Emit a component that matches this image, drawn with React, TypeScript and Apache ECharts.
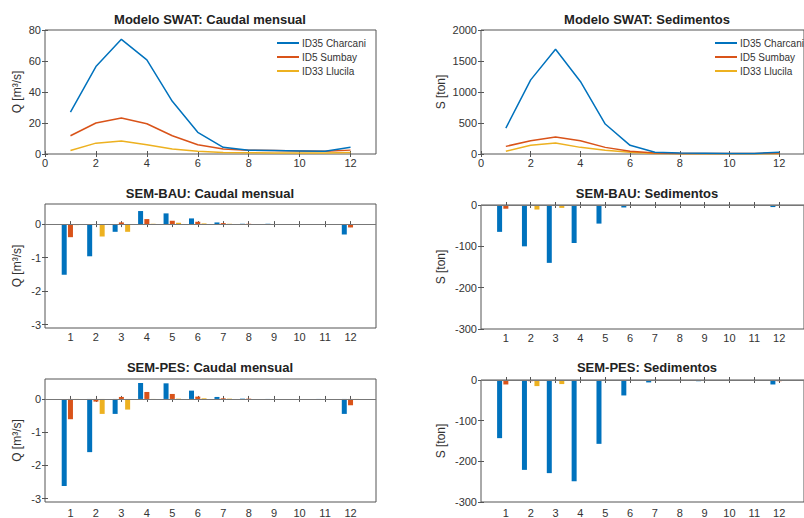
import React, { useEffect, useRef } from 'react';
import * as echarts from 'echarts';

const months = [1, 2, 3, 4, 5, 6, 7, 8, 9, 10, 11, 12];
const names = ['ID35 Charcani', 'ID5 Sumbay', 'ID33 Llucila'];
const colors = ['#0072BD', '#D95319', '#EDB120'];

const swatQCharcani = [27, 56.4, 74, 60.7, 34, 14, 4.3, 2.4, 2.2, 2.0, 1.8, 4.3];
const swatQSumbay = [11.8, 20, 23.2, 19.5, 11.8, 6, 3.2, 2.4, 2.2, 2.0, 1.8, 2.5];
const swatQLlucila = [2.2, 7, 8.4, 6, 3.2, 1.7, 1.0, 0.8, 0.7, 0.6, 0.6, 0.9];

const swatSCharcani = [418, 1196, 1690, 1170, 483, 140, 27, 15, 12, 10, 10, 30];
const swatSSumbay = [123, 215, 273, 215, 107, 43, 16, 10, 10, 10, 10, 15];
const swatSLlucila = [43, 140, 177, 107, 59, 27, 10, 5, 5, 5, 5, 5];

const bauQCharcani = [-1.51, -0.96, -0.23, 0.39, 0.32, 0.17, 0.05, 0.01, 0.01, 0.0, 0.0, -0.31];
const bauQSumbay = [-0.39, -0.02, 0.05, 0.15, 0.1, 0.07, 0.03, 0.01, 0.0, 0.0, 0.0, -0.1];
const bauQLlucila = [-0.03, -0.37, -0.23, 0.01, 0.04, 0.02, 0.01, 0.0, 0.0, 0.0, 0.0, -0.02];

const bauSCharcani = [-65, -100, -140, -92, -45, -6, -1, -1, -1, -1, -1, -5];
const bauSSumbay = [-9, -2, -1, -1, -1, -1, 0, 0, 0, 0, 0, -1];
const bauSLlucila = [-1, -11, -7, -1, -1, 0, 0, 0, 0, 0, 0, 0];

const pesQCharcani = [-2.62, -1.6, -0.45, 0.48, 0.47, 0.25, 0.06, 0.01, -0.01, 0.0, -0.01, -0.45];
const pesQSumbay = [-0.61, -0.08, 0.06, 0.21, 0.15, 0.07, 0.02, 0.01, 0.0, 0.0, 0.0, -0.19];
const pesQLlucila = [-0.03, -0.45, -0.32, -0.01, 0.01, 0.02, 0.01, 0.0, 0.0, 0.0, 0.0, -0.02];

const pesSCharcani = [-143, -221, -229, -249, -157, -38, -6, -2, -3, -1, -1, -11];
const pesSSumbay = [-11, -3, -2, -1, -1, 0, 0, 0, 0, 0, 0, -3];
const pesSLlucila = [-1, -15, -10, -1, -1, 0, 0, 0, 0, 0, 0, 0];

const lineXTicks = [0, 2, 4, 6, 8, 10, 12];
const barXTicks = months;
const qLineTicks = [0, 20, 40, 60, 80];
const sLineTicks = [0, 500, 1000, 1500, 2000];
const qBarTicks = [-3, -2, -1, 0];
const sBarTicks = [-300, -200, -100, 0];

const titles = [
  'Modelo SWAT: Caudal mensual',
  'Modelo SWAT: Sedimentos',
  'SEM-BAU: Caudal mensual',
  'SEM-BAU: Sedimentos',
  'SEM-PES: Caudal mensual',
  'SEM-PES: Sedimentos',
];

const FONT = '"Liberation Sans", Arial, Helvetica, sans-serif';
const AX = '#555';
const TXT = '#333';

export default function App() {
  const ref = useRef<HTMLDivElement>(null);
  useEffect(() => {
    if (!ref.current) return;
    const chart = echarts.init(ref.current, null, { renderer: 'svg' });

    const grids = [
      { left: 45, top: 30, width: 331, height: 124 },
      { left: 481, top: 30, width: 331, height: 124 },
      { left: 45, top: 204, width: 331, height: 124 },
      { left: 481, top: 205, width: 331, height: 124 },
      { left: 45, top: 379, width: 331, height: 123 },
      { left: 481, top: 380, width: 331, height: 122 },
    ].map((g) => ({ ...g, show: true, borderColor: AX, borderWidth: 1, backgroundColor: 'transparent' }));

    const titleCenters = [
      [210, 13], [647, 13], [210, 187], [647, 187], [210, 361], [647, 361],
    ];

    const xTickSets = [lineXTicks, lineXTicks, barXTicks, barXTicks, barXTicks, barXTicks];
    const yCfg = [
      { min: 0, max: 80, ticks: qLineTicks, name: 'Q [m³/s]', gap: 22 },
      { min: 0, max: 2000, ticks: sLineTicks, name: 'S [ton]', gap: 34 },
      { min: -3.1, max: 0.6, ticks: qBarTicks, name: 'Q [m³/s]', gap: 22 },
      { min: -300, max: 0, ticks: sBarTicks, name: 'S [ton]', gap: 34 },
      { min: -3.1, max: 0.6, ticks: qBarTicks, name: 'Q [m³/s]', gap: 22 },
      { min: -300, max: 0, ticks: sBarTicks, name: 'S [ton]', gap: 34 },
    ];
    const plain = (v: number) => String(v);

    const xAxis: any[] = [];
    const yAxis: any[] = [];
    for (let gi = 0; gi < 6; gi++) {
      const xt = xTickSets[gi];
      const tick = { show: true, inside: true, length: 3, lineStyle: { color: AX, width: 1 }, customValues: xt };
      xAxis.push({
        type: 'value', gridIndex: gi, min: 0, max: 13, position: 'bottom',
        axisLine: { show: false }, splitLine: { show: false },
        axisTick: tick,
        axisLabel: { customValues: xt, color: TXT, fontSize: 11, fontFamily: FONT, margin: gi >= 4 ? 5 : 3, formatter: plain },
      });
      xAxis.push({
        type: 'value', gridIndex: gi, min: 0, max: 13, position: 'top',
        axisLine: { show: false }, splitLine: { show: false },
        axisTick: tick, axisLabel: { show: false },
      });
      const y = yCfg[gi];
      const ytick = { show: true, inside: true, length: 3, lineStyle: { color: AX, width: 1 }, customValues: y.ticks };
      yAxis.push({
        type: 'value', gridIndex: gi, min: y.min, max: y.max, position: 'left',
        axisLine: { show: false }, splitLine: { show: false },
        axisTick: ytick,
        axisLabel: { customValues: y.ticks, color: TXT, fontSize: 11, fontFamily: FONT, margin: 4, formatter: plain },
        name: y.name, nameLocation: 'middle', nameGap: y.gap, nameRotate: 90,
        nameTextStyle: { color: TXT, fontSize: 12, fontFamily: FONT },
      });
      yAxis.push({
        type: 'value', gridIndex: gi, min: y.min, max: y.max, position: 'right',
        axisLine: { show: false }, splitLine: { show: false },
        axisTick: ytick, axisLabel: { show: false },
      });
    }

    const lineSets = [
      [swatQCharcani, swatQSumbay, swatQLlucila],
      [swatSCharcani, swatSSumbay, swatSLlucila],
    ];
    const barSets = [
      [bauQCharcani, bauQSumbay, bauQLlucila],
      [bauSCharcani, bauSSumbay, bauSLlucila],
      [pesQCharcani, pesQSumbay, pesQLlucila],
      [pesSCharcani, pesSSumbay, pesSLlucila],
    ];

    const series: any[] = [];
    lineSets.forEach((set, gi) => {
      set.forEach((vals, si) => {
        series.push({
          type: 'line', name: names[si], xAxisIndex: gi * 2, yAxisIndex: gi * 2,
          data: months.map((m, i) => [m, vals[i]]),
          showSymbol: false, symbol: 'none',
          color: colors[si],
          lineStyle: { color: colors[si], width: 1.5 },
          z: 5 - si,
        });
      });
    });
    barSets.forEach((set, bi) => {
      const gi = bi + 2;
      set.forEach((vals, si) => {
        const s: any = {
          type: 'bar', name: names[si], xAxisIndex: gi * 2, yAxisIndex: gi * 2,
          data: months.map((m, i) => [m, vals[i]]),
          barWidth: 5, barGap: '25%',
          color: colors[si],
          itemStyle: { color: colors[si] },
        };
        if (si === 0) {
          s.markLine = {
            silent: true, symbol: 'none', animation: false,
            label: { show: false },
            lineStyle: { color: '#777', type: 'solid', width: 1 },
            data: [{ yAxis: 0 }],
          };
        }
        series.push(s);
      });
    });

    const legendBase = {
      orient: 'vertical', data: names, icon: 'rect', itemWidth: 22, itemHeight: 2, itemGap: 4,
      textStyle: { fontSize: 10, color: TXT, fontFamily: FONT, padding: [0, 0, 0, -2] },
      selectedMode: false, padding: 0,
    };

    chart.setOption({
      animation: false,
      backgroundColor: '#fff',
      title: titles.map((t, i) => ({
        text: t, left: titleCenters[i][0], top: titleCenters[i][1], textAlign: 'center', padding: 0,
        textStyle: { fontSize: 13, fontWeight: 'bold', color: '#222', fontFamily: FONT },
      })),
      legend: [
        { ...legendBase, left: 277, top: 38 },
        { ...legendBase, left: 715, top: 38 },
      ],
      grid: grids,
      xAxis,
      yAxis,
      series,
    });
    return () => chart.dispose();
  }, []);
  return <div ref={ref} style={{ position: 'fixed', left: 0, top: 0, width: 804, height: 518 }} />;
}
